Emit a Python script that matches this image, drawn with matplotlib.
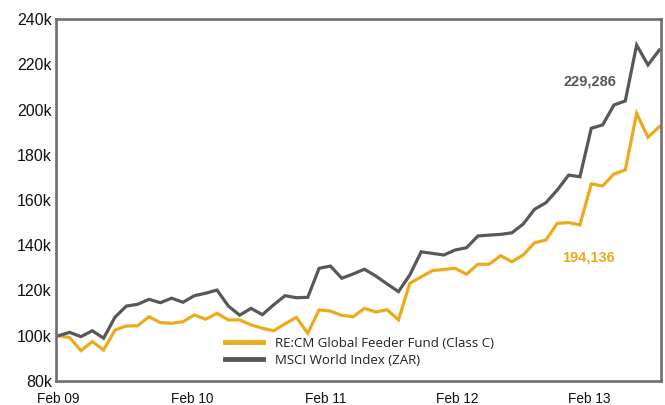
"""Growth of R100k: RE:CM Global Feeder Fund vs MSCI World Index (ZAR)."""

import matplotlib
matplotlib.use("Agg")
import matplotlib.pyplot as plt

# monthly values in thousands of rand, Feb 09 onwards
fund = [100, 99.2, 93.4, 97.4, 93.7, 102.5, 104.3, 104.4, 108.4, 105.8,
        105.5, 106.2, 109.2, 107.3, 109.9, 107.0, 107.0, 104.8, 103.3, 102.2,
        105.3, 108.1, 101.1, 111.4, 110.9, 109.0, 108.4, 112.1, 110.5, 111.5,
        107.0, 123.2, 126.0, 128.8, 129.3, 129.8, 127.2, 131.6, 131.6, 135.4,
        132.7, 135.7, 141.1, 142.3, 149.7, 150.0, 149.0, 167.1, 166.2, 171.5,
        173.3, 198.3, 187.7, 192.4]
msci = [100, 101.5, 99.6, 102.2, 98.9, 108.2, 113.1, 113.9, 116.1, 114.6,
        116.6, 114.8, 117.7, 118.8, 120.2, 113.1, 109.1, 112.1, 109.3, 113.7,
        117.7, 116.8, 117.0, 129.8, 130.8, 125.4, 127.3, 129.4, 126.4, 122.9,
        119.5, 126.9, 137.1, 136.4, 135.7, 137.9, 138.9, 144.1, 144.5, 144.8,
        145.5, 149.4, 155.9, 158.8, 164.4, 171.0, 170.3, 191.7, 193.2, 202.0,
        203.8, 228.5, 219.7, 226.3]
year_labels = ["Feb 09", "Feb 10", "Feb 11", "Feb 12", "Feb 13"]
year_ticks = [0, 11.8, 23.6, 35.2, 46.8]
y_ticks = [80, 100, 120, 140, 160, 180, 200, 220, 240]
fund_label = "RE:CM Global Feeder Fund (Class C)"
msci_label = "MSCI World Index (ZAR)"
fund_final = "194,136"
msci_final = "229,286"

ORANGE = "#ebab1c"
GREY = "#58585a"
FRAME = "#6f6f71"

plt.rcParams["font.family"] = ["Liberation Sans", "DejaVu Sans"]

fig = plt.figure(figsize=(6.65, 4.05), dpi=100)
ax = fig.add_axes([0.0842, 0.0593, 0.9098, 0.8937])

months = list(range(len(fund)))
ax.plot(months, fund, color=ORANGE, lw=2.3, label=fund_label, solid_joinstyle="miter")
ax.plot(months, msci, color=GREY, lw=2.3, label=msci_label, solid_joinstyle="miter")

ax.set_xlim(-0.2, 53.15)
ax.set_ylim(80, 240)
ax.set_yticks(y_ticks)
ax.set_yticklabels([f"{v}k" for v in y_ticks])
ax.set_xticks(year_ticks)
ax.set_xticklabels(year_labels)
ax.tick_params(axis="y", length=0, pad=3, labelsize=11.5, colors="#111111")
ax.tick_params(axis="x", length=0, pad=8, labelsize=9.8, colors="#111111")

for side in ["left", "bottom", "top", "right"]:
    ax.spines[side].set_color(FRAME)
    ax.spines[side].set_linewidth(1.9)

ax.text(46.9, 212.3, msci_final, color=GREY, fontsize=10.5, fontweight="bold",
        ha="center", va="center")
ax.text(46.8, 134.4, fund_final, color=ORANGE, fontsize=10.5, fontweight="bold",
        ha="center", va="center")

leg = ax.legend(loc="center left", bbox_to_anchor=(0.338, 0.1316),
                bbox_transform=fig.transFigure, frameon=False, borderpad=0,
                borderaxespad=0, handlelength=2.9, handletextpad=0.9,
                labelspacing=0.3, prop={"family": "Open Sans", "size": 9.5})
for line in leg.get_lines():
    line.set_linewidth(3.5)
for t in leg.get_texts():
    t.set_color("#222222")

fig.savefig("out.png", dpi=100)
plt.close(fig)
